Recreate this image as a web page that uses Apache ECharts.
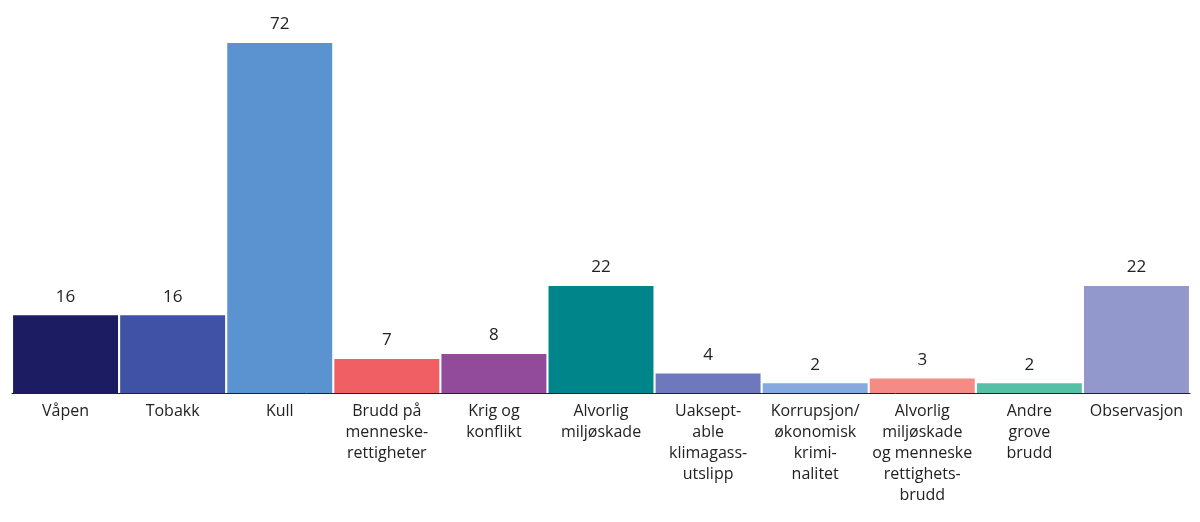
<!DOCTYPE html>
<html>
<head>
<meta charset="utf-8">
<script src="https://cdn.jsdelivr.net/npm/echarts@6/dist/echarts.min.js"></script>
<style>html,body{margin:0;padding:0;background:#fff}#main{width:1200px;height:522px}</style>
</head>
<body>
<div id="main"></div>
<script>
var categories = ['Våpen', 'Tobakk', 'Kull', 'Brudd på\nmenneske-\nrettigheter', 'Krig og\nkonflikt',
	'Alvorlig\nmiljøskade', 'Uaksept-\nable\nklimagass-\nutslipp', 'Korrupsjon/\nøkonomisk\nkrimi-\nnalitet',
	'Alvorlig\nmiljøskade\nog menneske\nrettighets-\nbrudd', 'Andre\ngrove\nbrudd', 'Observasjon'];
var values = [16, 16, 72, 7, 8, 22, 4, 2, 3, 2, 22];
var colors = ['#1b1c62', '#3f52a6', '#5b93d0', '#f05f63', '#924a9b', '#00868a', '#6e78bd', '#86aae0', '#f48b84', '#55c0a6', '#9398cc'];

var myChart = echarts.init(document.getElementById('main'));
var option = {
	animation: false,
	grid: { left: 12, right: 10, top: 43, bottom: 129 },
	xAxis: {
		type: 'category',
		data: categories,
		axisTick: { show: false },
		axisLine: { lineStyle: { color: '#222', width: 1 } },
		axisLabel: { interval: 0, color: '#222', fontFamily: 'Open Sans', fontSize: 16, lineHeight: 21, margin: 8 }
	},
	yAxis: { type: 'value', min: 0, max: 72, show: false },
	series: [{
		type: 'bar',
		barCategoryGap: '2%',
		data: values.map(function(v, i) { return { value: v, itemStyle: { color: colors[i] } }; }),
		label: { show: true, position: 'top', distance: 10, color: '#222', fontFamily: 'Open Sans', fontSize: 17 }
	}]
};
myChart.setOption(option);
</script>
</body>
</html>
